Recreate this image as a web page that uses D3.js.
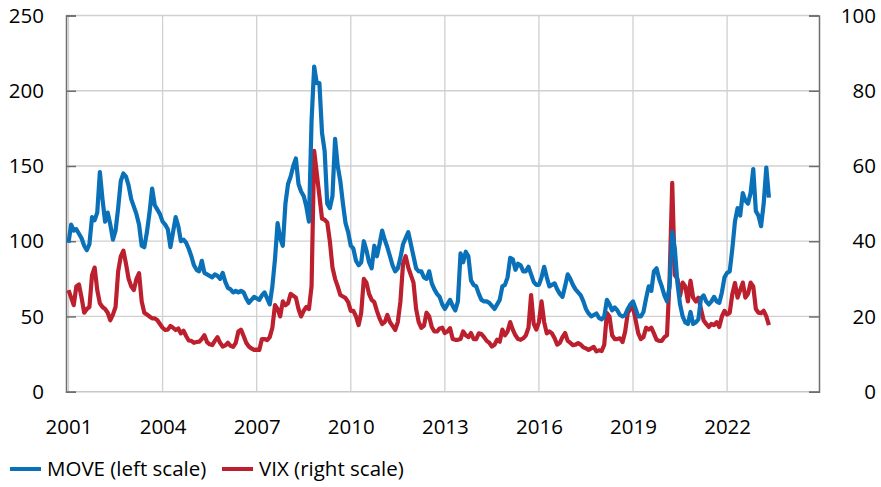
<!DOCTYPE html>
<html lang="en">
  <head>
    <meta charset="utf-8" />
    <title>MOVE and VIX</title>
    <script src="https://d3js.org/d3.v7.min.js"></script>
    <style type="text/css">
      body { margin: 0; background: #fff; }
      text { font-family: "Open Sans", sans-serif; fill: #000; }
    </style>
  </head>
  <body>
    <script type="text/javascript">
      // Monthly values, Jan 2001 onwards
      const startYear = 2001;

      const move = [
        99, 111, 107, 108, 105, 102, 97, 94, 98, 116, 114, 119, // 2001
        146, 128, 113, 119, 111, 101, 107, 122, 140, 145, 143, 137, // 2002
        128, 123, 118, 111, 97, 96, 106, 119, 135, 124, 121, 118, // 2003
        113, 111, 108, 96, 106, 116, 110, 100, 101, 99, 95, 90, // 2004
        84, 81, 80, 87, 79, 78, 77, 76, 78, 77, 75, 79, // 2005
        73, 69, 68, 66, 67, 66, 67, 66, 62, 59, 61, 63, // 2006
        62, 61, 64, 66, 62, 58, 70, 88, 112, 102, 97, 125, // 2007
        138, 143, 150, 155, 138, 133, 130, 123, 113, 180, 216, 205, // 2008
        205, 172, 160, 125, 122, 130, 168, 150, 140, 125, 112, 106, // 2009
        97, 95, 87, 84, 86, 100, 94, 86, 82, 97, 90, 98, // 2010
        107, 101, 96, 90, 84, 80, 82, 89, 98, 102, 106, 98, // 2011
        90, 82, 80, 80, 76, 75, 80, 72, 68, 65, 63, 58, // 2012
        55, 58, 61, 57, 54, 60, 92, 86, 93, 90, 74, 71, // 2013
        70, 65, 61, 60, 60, 59, 57, 55, 58, 61, 70, 71, // 2014
        76, 89, 88, 81, 85, 84, 80, 80, 83, 78, 73, 71, // 2015
        71, 76, 83, 76, 70, 71, 72, 68, 65, 63, 70, 78, // 2016
        75, 71, 68, 66, 64, 60, 55, 52, 50, 51, 52, 49, // 2017
        48, 50, 61, 58, 54, 56, 54, 51, 50, 51, 55, 58, // 2018
        60, 55, 50, 50, 53, 62, 70, 67, 80, 82, 75, 70, // 2019
        64, 60, 70, 106, 95, 72, 58, 50, 46, 45, 53, 45, // 2020
        46, 48, 62, 64, 60, 58, 60, 63, 60, 59, 66, 76, // 2021
        79, 80, 95, 113, 122, 117, 132, 127, 125, 132, 148, 120, // 2022
        117, 110, 125, 149, 129 // 2023
      ];

      const vix = [
        27, 25, 23, 28, 28.5, 25, 21, 22, 22.5, 31, 33, 27, // 2001
        23.5, 22.5, 22, 21, 19, 20.5, 22.5, 32, 36, 37.5, 34, 30, // 2002
        28, 27, 30, 31.5, 24, 21, 20.5, 20, 19.5, 19.5, 19, 18, // 2003
        17, 16.4, 16.5, 17.5, 17, 16.4, 16.8, 15.5, 16.2, 14.8, 13.6, 13.5, // 2004
        13, 13.2, 13.3, 14, 15, 13.2, 12.6, 12.4, 13.5, 14.5, 13, 12, // 2005
        12.3, 13, 12.2, 11.9, 13, 16, 16.5, 14.8, 13, 12, 11.5, 11.1, // 2006
        11.2, 11.1, 14, 14, 13.7, 14.5, 17, 23, 22, 20, 24, 23, // 2007
        23.5, 26, 25.5, 25, 22, 20, 21.5, 22.5, 22, 28, 64, 58, // 2008
        52, 46, 45.7, 45, 40, 33, 30, 28, 25.7, 25.3, 24.9, 23.8, // 2009
        21.5, 21.5, 20, 17.7, 21, 30, 29, 26, 24.4, 23.8, 21.5, 19.5, // 2010
        18, 18.5, 20.4, 18.5, 17.5, 16.4, 18.5, 24, 34, 36, 33, 31, // 2011
        29, 22, 18.5, 17, 17.5, 21, 20, 17.2, 16, 16, 16.8, 17, // 2012
        15.6, 16, 16.9, 14, 13.8, 13.8, 14, 16, 15, 14.5, 15.6, 14, // 2013
        14, 15.5, 15.3, 14.5, 13.5, 13, 12, 12.5, 13.8, 13.3, 16.5, 15, // 2014
        16, 18.5, 16.5, 15, 14, 13.8, 14.2, 15, 17, 25.7, 18, 16.5, // 2015
        18.5, 24, 18.5, 15.5, 16, 15.5, 14.2, 12.5, 13, 14.5, 15.6, 13.5, // 2016
        13, 12.4, 12.5, 12.9, 12.5, 11.8, 11.5, 11.1, 11.5, 11.9, 10.7, 11, // 2017
        10.8, 12.5, 20.9, 20, 15, 14, 14, 14.2, 13.2, 16, 21, 22, // 2018
        22.5, 19, 15.5, 14, 14.5, 17, 16.5, 17, 15.5, 13.8, 13.5, 13.5, // 2019
        14.5, 15, 30, 55.5, 31, 30, 25.5, 29, 28, 24, 29.5, 25, // 2020
        24, 25, 22, 19, 18, 17.2, 18, 17.7, 18.5, 17.2, 20, 21.5, // 2021
        20.5, 21, 26, 28.9, 25, 27, 29, 25, 26, 29, 28, 22, // 2022
        21, 20.9, 21.5, 20, 17.7 // 2023
      ];

      const leftTicks = [0, 50, 100, 150, 200, 250];
      const rightTicks = [0, 20, 40, 60, 80, 100];
      const yearTicks = [2001, 2004, 2007, 2010, 2013, 2016, 2019, 2022];
      const seriesNames = ["MOVE (left scale)", "VIX (right scale)"];

      const w = 881;
      const h = 487;
      const plotLeft = 66, plotRight = 819, plotTop = 15.5, plotBottom = 391.7;
      const blue = "#0a70b8";
      const red = "#bc1f2e";
      const fontSize = 20.5;

      const xScale = d3.scaleLinear().domain([2000.92, 2024.93]).range([plotLeft, plotRight]);
      const yLeft = d3.scaleLinear().domain([0, 250]).range([plotBottom, plotTop]);
      const yRight = d3.scaleLinear().domain([0, 100]).range([plotBottom, plotTop]);

      const svg = d3.select("body").append("svg").attr("width", w).attr("height", h);

      // gridlines
      svg.append("g").selectAll("line").data(leftTicks.slice(1)).enter().append("line")
        .attr("x1", plotLeft).attr("x2", plotRight)
        .attr("y1", d => yLeft(d)).attr("y2", d => yLeft(d))
        .attr("stroke", "#d0d0d0").attr("stroke-width", 1.3);
      svg.append("g").selectAll("line").data(yearTicks).enter().append("line")
        .attr("x1", d => xScale(d)).attr("x2", d => xScale(d))
        .attr("y1", plotTop).attr("y2", plotBottom)
        .attr("stroke", "#d0d0d0").attr("stroke-width", 1.3);
      // bottom line
      svg.append("line").attr("x1", plotLeft).attr("x2", plotRight)
        .attr("y1", plotBottom).attr("y2", plotBottom)
        .attr("stroke", "#c8c8c8").attr("stroke-width", 1.5);

      // axes
      const axisL = d3.axisLeft(yLeft).tickValues(leftTicks).tickSize(-10).tickPadding(22);
      const axisR = d3.axisRight(yRight).tickValues(rightTicks).tickSize(-10).tickPadding(22);
      const gL = svg.append("g").attr("transform", `translate(${plotLeft},0)`).call(axisL);
      const gR = svg.append("g").attr("transform", `translate(${plotRight},0)`).call(axisR);
      [gL, gR].forEach(g => {
        g.select(".domain").attr("stroke", "#6e6e6e").attr("stroke-width", 1.5);
        g.selectAll(".tick line").attr("stroke", "#6e6e6e").attr("stroke-width", 1.5);
        g.selectAll(".tick text").attr("font-size", fontSize).attr("font-family", "Open Sans").attr("fill", "#000");
      });
      gR.selectAll(".tick text").attr("text-anchor", "end").attr("x", 57);

      const axisB = d3.axisBottom(xScale).tickValues(yearTicks).tickFormat(d3.format("d")).tickSize(0).tickPadding(28);
      const gB = svg.append("g").attr("transform", `translate(0,${plotBottom})`).call(axisB);
      gB.select(".domain").remove();
      gB.selectAll(".tick text").attr("font-size", fontSize).attr("font-family", "Open Sans").attr("fill", "#000");

      // lines
      const xOf = (d, i) => xScale(startYear + i / 12);
      const lineR = d3.line().x(xOf).y(d => yRight(d));
      const lineL = d3.line().x(xOf).y(d => yLeft(d));

      svg.append("path").datum(vix).attr("d", lineR)
        .attr("fill", "none").attr("stroke", red).attr("stroke-width", 4.2)
        .attr("stroke-linejoin", "round");
      svg.append("path").datum(move).attr("d", lineL)
        .attr("fill", "none").attr("stroke", blue).attr("stroke-width", 4.2)
        .attr("stroke-linejoin", "round");

      // legend
      const legend = [
        { name: seriesNames[0], color: blue, x: 10 },
        { name: seriesNames[1], color: red, x: 222 }
      ];
      const lg = svg.append("g").selectAll("g").data(legend).enter().append("g")
        .attr("transform", d => `translate(${d.x},469)`);
      lg.append("line").attr("x1", 0).attr("x2", 31).attr("y1", 0).attr("y2", 0)
        .attr("stroke", d => d.color).attr("stroke-width", 4);
      lg.append("text").attr("x", 37).attr("y", 7).attr("font-size", fontSize)
        .text(d => d.name);
    </script>
  </body>
</html>
